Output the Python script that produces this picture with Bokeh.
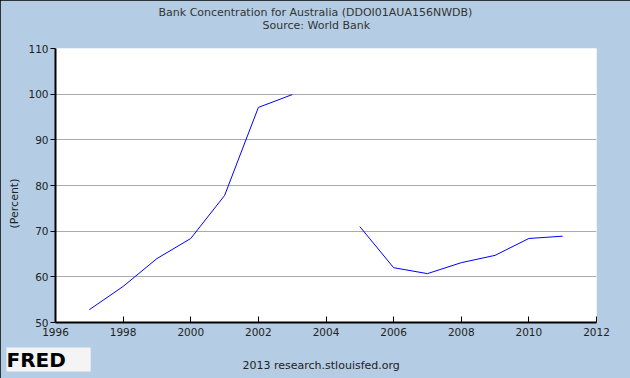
from bokeh.plotting import figure
from bokeh.models import FixedTicker, ColumnDataSource, Title
from bokeh.embed import file_html
from bokeh.resources import INLINE

years = [1997, 1998, 1999, 2000, 2001, 2002, 2003, 2004, 2005, 2006, 2007, 2008, 2009, 2010, 2011]
concentration = [52.8, 57.9, 64.0, 68.4, 77.8, 97.1, 99.9, float("nan"), 71.0, 62.0, 60.7, 63.1, 64.7, 68.4, 68.9]
x_ticks = [1996, 1998, 2000, 2002, 2004, 2006, 2008, 2010, 2012]
y_ticks = [50, 60, 70, 80, 90, 100, 110]
grid_ticks = [60, 70, 80, 90, 100]
title_line1 = "Bank Concentration for Australia (DDOI01AUA156NWDB)"
title_line2 = "Source: World Bank"
y_label = "(Percent)"
footer = "2013 research.stlouisfed.org"
logo = "FRED"

BG = "#B4CDE4"
FONT = "DejaVu Sans"
TXT = "#222222"

p = figure(width=630, height=378, x_range=(1996, 2012), y_range=(50, 110),
           output_backend="svg", toolbar_location=None,
           frame_width=541, frame_height=274,
           min_border_left=54, min_border_right=35, min_border_top=48, min_border_bottom=56,
           background_fill_color="white", border_fill_color=BG, outline_line_color=None,
           title=None)
p.styles = {"outline": "2px solid black", "outline-offset": "-2px"}

src = ColumnDataSource(dict(x=years, y=concentration))
p.line("x", "y", source=src, line_color="#0000FF", line_width=1)

p.xgrid.visible = False
p.ygrid.ticker = FixedTicker(ticks=grid_ticks)
p.ygrid.grid_line_color = "#AAAAAA"
p.ygrid.grid_line_width = 1

p.xaxis.ticker = FixedTicker(ticks=x_ticks)
p.yaxis.ticker = FixedTicker(ticks=y_ticks)
for ax in (p.xaxis, p.yaxis):
    ax.axis_line_color = "black"
    ax.axis_line_width = 2
    ax.major_tick_line_color = "black"
    ax.major_tick_line_width = 1
    ax.minor_tick_line_color = None
    ax.major_label_text_font = FONT
    ax.major_label_text_font_size = "10.5px"
    ax.major_label_text_color = TXT
p.xaxis.major_tick_in = 6
p.xaxis.major_tick_out = 0
p.xaxis.major_label_standoff = 5
p.yaxis.major_tick_in = 0
p.yaxis.major_tick_out = 5
p.yaxis.major_label_standoff = 2

def title(text, place, standoff, offset=0, size="11px", color=TXT, align="left", **kw):
    t = Title(text=text, align=align, offset=offset, standoff=standoff,
              text_font=kw.pop("font", FONT), text_font_size=size,
              text_font_style=kw.pop("style", "normal"),
              text_color=color, **kw)
    p.add_layout(t, place)
    return t

# top: subtitle (closest to the frame), then main title pulled down above it
title(title_line2, "above", 33, offset=207, color="#333333")
title(title_line1, "above", -36, offset=103, color="#333333")
title(y_label, "left", 10, offset=94)
# bottom: FRED logo box and footer, both placed on the same row
title(logo + "\u00a0" * 3 + "\u2009", "below", -66, offset=-49, size="20px", color="black",
      style="bold", background_fill_color="#F4F4F4")
title(footer, "below", -66, offset=187)

open("out.html", "w").write(file_html(p, INLINE))
